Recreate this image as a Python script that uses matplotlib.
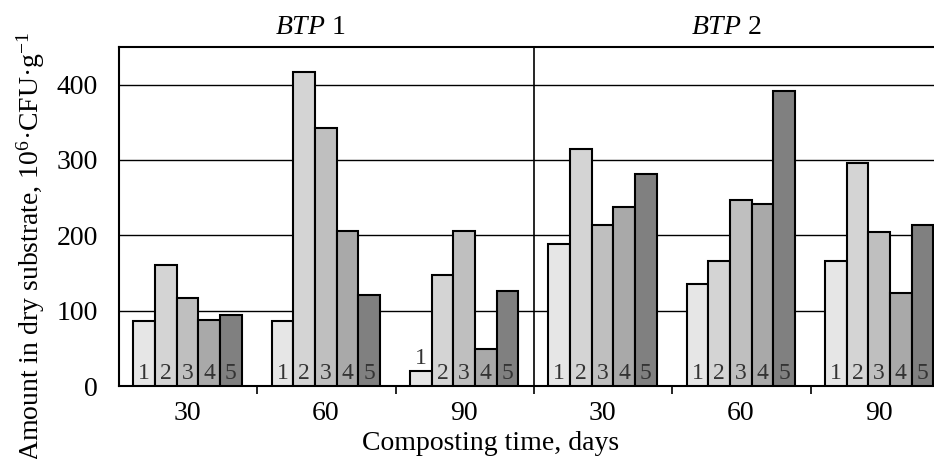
import numpy as np
import matplotlib
matplotlib.use('Agg')
import matplotlib.pyplot as plt

plt.rcParams['font.family'] = ['Liberation Serif', 'DejaVu Serif']
plt.rcParams['mathtext.fontset'] = 'custom'
plt.rcParams['mathtext.rm'] = 'Liberation Serif'
plt.rcParams['mathtext.it'] = 'Liberation Serif:italic'

# composting time groups (BTP 1: 30/60/90, BTP 2: 30/60/90)
days = ['30', '60', '90', '30', '60', '90']
variants = ['1', '2', '3', '4', '5']
v1 = [86, 86, 20, 189, 136, 166]
v2 = [161, 417, 148, 315, 166, 296]
v3 = [117, 342, 206, 214, 247, 205]
v4 = [87, 206, 49, 237, 241, 123]
v5 = [94, 121, 126, 281, 392, 214]
series = [v1, v2, v3, v4, v5]
colors = ['#e6e6e6', '#d4d4d4', '#bfbfbf', '#a9a9a9', '#808080']

fig = plt.figure(figsize=(9.34, 4.59), dpi=100)
ax = fig.add_axes([119 / 934, 1 - 386 / 459, 830 / 934, 339 / 459])

x = np.arange(len(days)) + 0.495
w = 0.157
for j, vals in enumerate(series):
    xs = x + (j - 2) * w
    ax.bar(xs, vals, width=w, color=colors[j], edgecolor='black',
           linewidth=1.5, zorder=3)
    for xi, v in zip(xs, vals):
        # the label goes above a bar too short to hold it
        ypos = v + 3 if v < 40 else 3
        ax.text(xi, ypos, variants[j], ha='center', va='bottom',
                fontsize=17, color='#333333', zorder=4)

ax.set_xlim(0, 6)
ax.set_ylim(0, 450)
ax.set_yticks([0, 100, 200, 300, 400])
ax.yaxis.grid(True, color='black', linewidth=1.0, zorder=0)
ax.set_axisbelow(True)
ax.tick_params(axis='y', length=0, pad=15, labelsize=20)

ax.set_xticks([1, 2, 3, 4, 5])
ax.set_xticklabels([])
ax.set_xticks(x, minor=True)
ax.set_xticklabels(days, minor=True)
ax.tick_params(axis='x', which='major', length=6, width=1.2, direction='out')
ax.tick_params(axis='x', which='minor', length=0, pad=11, labelsize=20)

ax.axvline(3, color='black', linewidth=1.2, zorder=1)
for s in ['left', 'top', 'bottom']:
    ax.spines[s].set_linewidth(1.5)
ax.spines['right'].set_visible(False)

fig.text(310 / 934, 1 - 27 / 459, r'$\mathit{BTP}$ 1', ha='center', va='center', fontsize=20)
fig.text(726 / 934, 1 - 27 / 459, r'$\mathit{BTP}$ 2', ha='center', va='center', fontsize=20)
fig.text(491 / 934, 1 - 444 / 459, 'Composting time, days', ha='center', va='center', fontsize=20)
fig.text(31 / 934, 1 - 246 / 459, r'Amount in dry substrate, 10$^{6}$·CFU·g$^{-1}$',
         ha='center', va='center', rotation=90, fontsize=20)

fig.savefig('out.png', dpi=100)
